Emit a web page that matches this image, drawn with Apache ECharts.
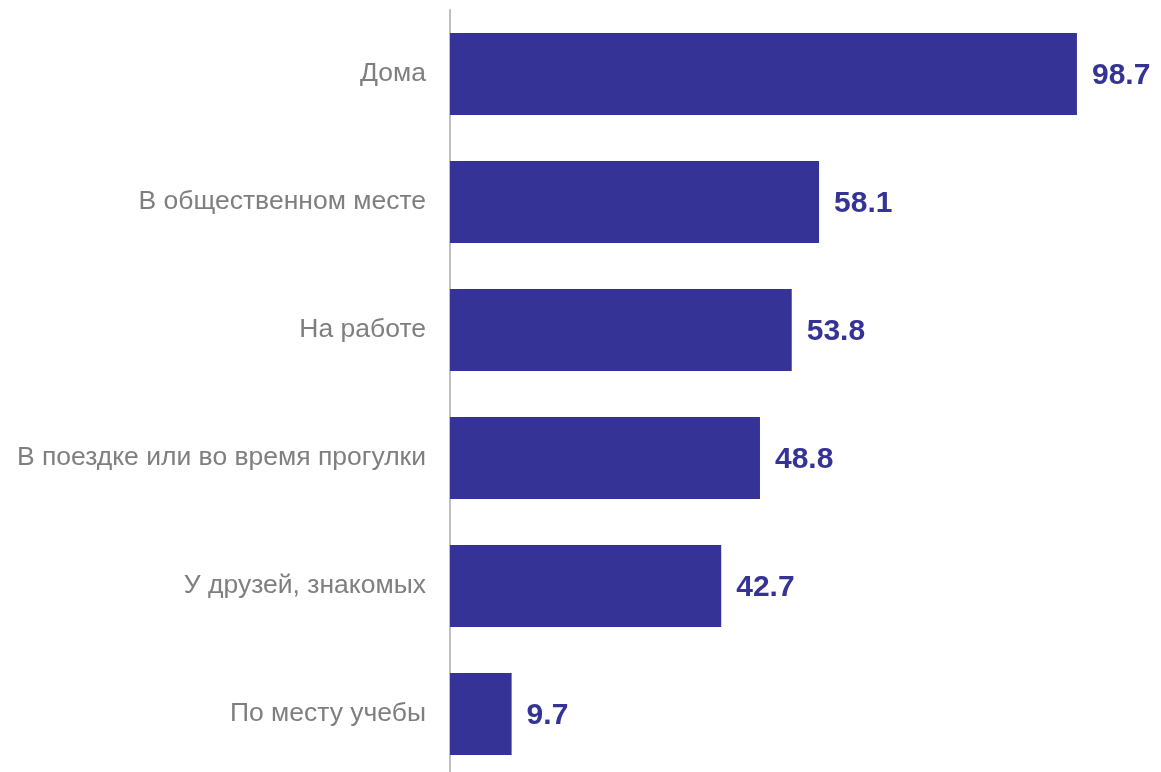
<!DOCTYPE html>
<html><head><meta charset="utf-8">
<script src="https://cdn.jsdelivr.net/npm/echarts@6/dist/echarts.min.js"></script>
<style>html,body{margin:0;padding:0;background:#fff}#c{width:1161px;height:772px}</style>
</head><body><div id="c"></div>
<script>
const categories = ["Дома","В общественном месте","На работе","В поездке или во время прогулки","У друзей, знакомых","По месту учебы"];
const values = [98.7,58.1,53.8,48.8,42.7,9.7];
const FONT = "'Liberation Sans'";
const chart = echarts.init(document.getElementById('c'));
chart.setOption({
  animation:false,
  grid:{left:450,top:10,width:635.2,height:768,outerBoundsMode:'none',containLabel:false},
  xAxis:{type:'value',min:0,max:100,show:false},
  yAxis:{type:'category',inverse:true,data:categories,
    axisLine:{show:true,lineStyle:{color:'#bfbfbf',width:2}},
    axisTick:{show:false},
    axisLabel:{color:'#7f7f7f',fontSize:26.5,fontFamily:FONT,margin:24,padding:[4,0,0,0]}},
  series:[{type:'bar',data:values,barCategoryGap:'36%',
    itemStyle:{color:'#353395'},
    label:{show:true,position:'right',distance:15,offset:[0,2],color:'#353395',fontSize:30,fontWeight:'bold',fontFamily:FONT,formatter:p=>p.value.toFixed(1)}}]
});
</script></body></html>
